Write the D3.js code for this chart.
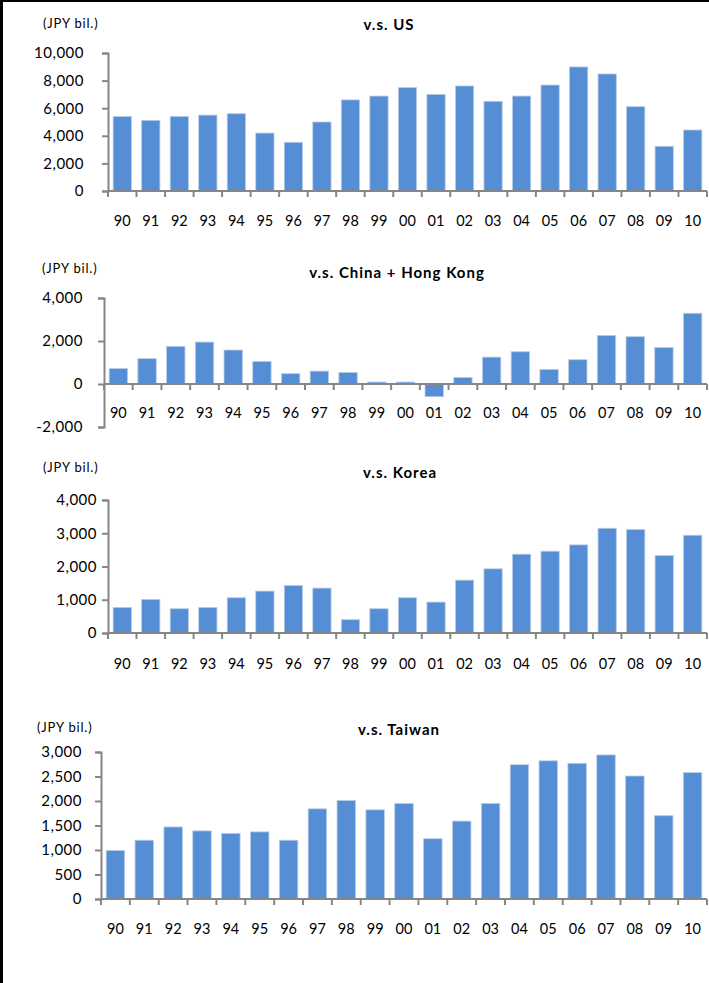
<!DOCTYPE html>
<html>
<head>
<meta charset="utf-8">
<script src="https://cdn.jsdelivr.net/npm/d3@7"></script>
<style>
  html, body { margin: 0; padding: 0; background: #fff; }
  svg { display: block; }
</style>
</head>
<body>
<div id="chart"></div>
<script>
// ===================================
// DATA (JPY bil.)
// ===================================
const years = ["90", "91", "92", "93", "94", "95", "96", "97", "98", "99", "00",
               "01", "02", "03", "04", "05", "06", "07", "08", "09", "10"];

const usValues = [5400, 5120, 5410, 5500, 5600, 4200, 3530, 5000, 6600, 6880, 7490,
                  7000, 7610, 6500, 6880, 7680, 8990, 8480, 6110, 3240, 4420];

const chinaHkValues = [720, 1180, 1750, 1950, 1580, 1050, 480, 600, 540, 90, 90,
                       -590, 300, 1250, 1500, 680, 1130, 2260, 2200, 1700, 3290];

const koreaValues = [770, 1010, 730, 770, 1060, 1260, 1430, 1350, 400, 730, 1060,
                     930, 1590, 1930, 2370, 2460, 2650, 3150, 3110, 2330, 2940];

const taiwanValues = [990, 1200, 1470, 1390, 1340, 1370, 1200, 1840, 2010, 1820, 1950,
                      1230, 1590, 1950, 2740, 2820, 2770, 2940, 2510, 1700, 2580];

const usTicks = [0, 2000, 4000, 6000, 8000, 10000];
const chinaHkTicks = [-2000, 0, 2000, 4000];
const koreaTicks = [0, 1000, 2000, 3000, 4000];
const taiwanTicks = [0, 500, 1000, 1500, 2000, 2500, 3000];

const titles = ["v.s. US", "v.s. China + Hong Kong", "v.s.  Korea", "v.s. Taiwan"];
const unitLabel = "(JPY bil.)";

// ===================================
// LAYOUT
// ===================================
const W = 709, H = 983;
const barColor = "#558ed5";
const axisColor = "#868686";
const font = "Lato, 'Open Sans', sans-serif";

// number format with a plain hyphen for negatives
const fmt = d => d3.format(",")(d).replace("\u2212", "-");

const panels = [
  { title: titles[0], values: usValues, ticks: usTicks,
    x0: 108, x1: 707, yTop: 53, yBot: 191, labelRight: 84,
    titleX: 389, titleY: 25, unitX: 43, unitY: 23, xLabelY: 221 },
  { title: titles[1], values: chinaHkValues, ticks: chinaHkTicks,
    x0: 104, x1: 707, yTop: 298, yBot: 427, labelRight: 83,
    titleX: 397, titleY: 273, unitX: 42, unitY: 268, xLabelY: 413 },
  { title: titles[2], values: koreaValues, ticks: koreaTicks,
    x0: 108, x1: 707, yTop: 500, yBot: 633, labelRight: 97,
    titleX: 400, titleY: 473, unitX: 43, unitY: 467, xLabelY: 664 },
  { title: titles[3], values: taiwanValues, ticks: taiwanTicks,
    x0: 101, x1: 707, yTop: 752, yBot: 899, labelRight: 82,
    titleX: 399, titleY: 730, unitX: 37, unitY: 727, xLabelY: 929 }
];

const svg = d3.select("#chart").append("svg")
  .attr("width", W)
  .attr("height", H);

svg.append("rect").attr("width", W).attr("height", H).attr("fill", "#fff");

// frame: left and top edges
svg.append("line").attr("x1", 1.5).attr("x2", 1.5).attr("y1", 0).attr("y2", H)
  .attr("stroke", "#000").attr("stroke-width", 3);
svg.append("line").attr("x1", 0).attr("x2", W).attr("y1", 1).attr("y2", 1)
  .attr("stroke", "#000").attr("stroke-width", 2);

panels.forEach(p => {
  const g = svg.append("g");

  const x = d3.scaleBand()
    .domain(years)
    .range([p.x0, p.x1])
    .paddingInner(0.36)
    .paddingOuter(0.18);

  const y = d3.scaleLinear()
    .domain(d3.extent(p.ticks))
    .range([p.yBot, p.yTop]);

  const zeroY = y(0);

  // bars
  g.selectAll("rect.bar")
    .data(p.values)
    .join("rect")
    .attr("class", "bar")
    .attr("x", (d, i) => x(years[i]))
    .attr("y", d => Math.min(y(d), zeroY))
    .attr("width", x.bandwidth())
    .attr("height", d => Math.abs(y(d) - zeroY))
    .attr("fill", barColor)
    .attr("stroke", "#b9cde5")
    .attr("stroke-width", 0.8);

  // y axis
  const yAxis = g.append("g")
    .attr("transform", `translate(${p.x0},0)`)
    .call(d3.axisLeft(y).tickValues(p.ticks).tickSize(6).tickFormat(""));
  yAxis.selectAll("path, line").attr("stroke", axisColor).attr("stroke-width", 2);

  // y tick labels
  g.selectAll("text.ytick")
    .data(p.ticks)
    .join("text")
    .attr("class", "ytick")
    .attr("x", p.labelRight)
    .attr("y", d => y(d))
    .attr("dy", "0.36em")
    .attr("text-anchor", "end")
    .attr("font-family", font)
    .attr("font-size", 15)
    .attr("letter-spacing", "0.5px")
    .attr("fill", "#000")
    .text(d => fmt(d));

  // x axis at zero with ticks at band boundaries
  g.append("line")
    .attr("x1", p.x0).attr("x2", p.x1)
    .attr("y1", zeroY).attr("y2", zeroY)
    .attr("stroke", axisColor).attr("stroke-width", 2);

  const step = x.step();
  const boundaries = d3.range(years.length + 1).map(i => p.x0 + i * step);
  g.selectAll("line.xtick")
    .data(boundaries)
    .join("line")
    .attr("class", "xtick")
    .attr("x1", d => d).attr("x2", d => d)
    .attr("y1", zeroY).attr("y2", zeroY + 6)
    .attr("stroke", axisColor).attr("stroke-width", 2);

  // x labels
  g.selectAll("text.xlab")
    .data(years)
    .join("text")
    .attr("class", "xlab")
    .attr("x", d => x(d) + x.bandwidth() / 2)
    .attr("y", p.xLabelY)
    .attr("dy", "0.36em")
    .attr("text-anchor", "middle")
    .attr("font-family", font)
    .attr("font-size", 14.5)
    .attr("fill", "#000")
    .text(d => d);

  // title
  g.append("text")
    .attr("x", p.titleX)
    .attr("y", p.titleY)
    .attr("dy", "0.36em")
    .attr("text-anchor", "middle")
    .attr("font-family", font)
    .attr("font-size", 15)
    .attr("letter-spacing", "1px")
    .attr("font-weight", "bold")
    .attr("fill", "#000")
    .text(p.title);

  // unit label
  g.append("text")
    .attr("x", p.unitX)
    .attr("y", p.unitY)
    .attr("dy", "0.36em")
    .attr("font-family", font)
    .attr("font-size", 13)
    .attr("letter-spacing", "0.8px")
    .attr("fill", "#000")
    .text(unitLabel);
});
</script>
</body>
</html>
